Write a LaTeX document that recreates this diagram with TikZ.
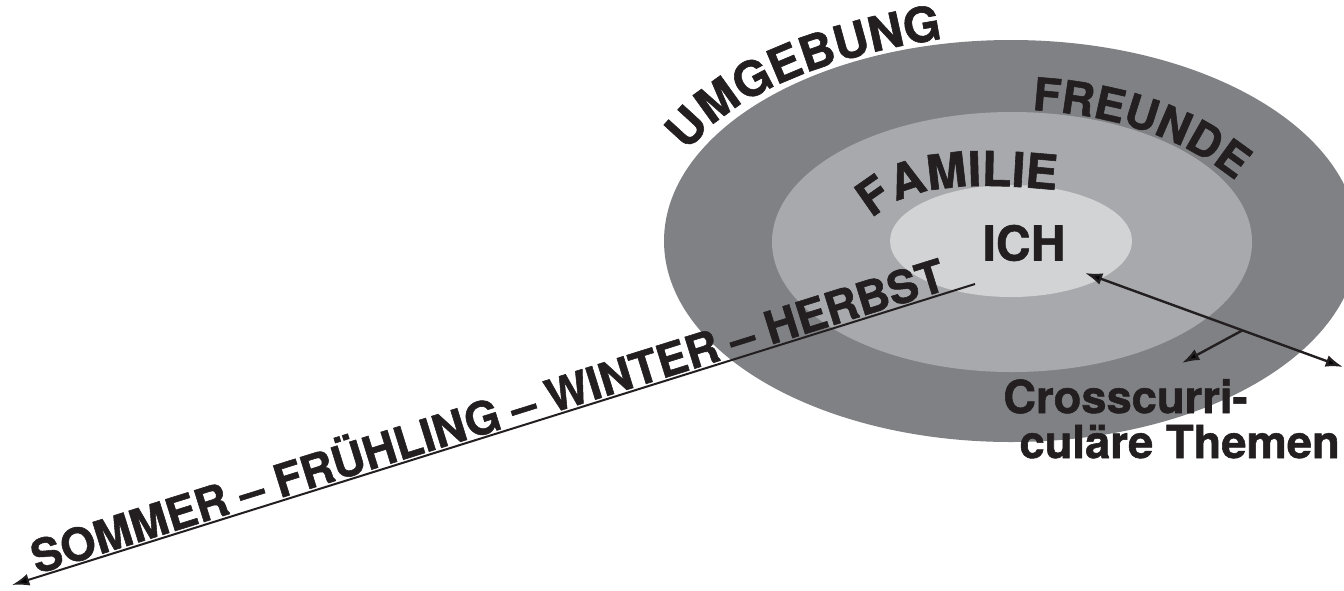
\documentclass[tikz,border=0pt]{standalone}
\usepackage{fontspec}
\setmainfont{TeX Gyre Heros}[BoldFeatures={FakeBold=1.2}]
\usetikzlibrary{arrows.meta,decorations.text}
\definecolor{ringout}{RGB}{128,129,132}
\definecolor{ringmid}{RGB}{167,169,172}
\definecolor{ringin}{RGB}{209,211,212}
\definecolor{ink}{RGB}{35,31,32}
\newcommand{\lbl}[1]{\fontsize{#1}{#1}\selectfont\bfseries}

\begin{document}
\begin{tikzpicture}[x=0.75pt,y=-0.75pt,
    lab/.style={font=\lbl{34},text=ink,inner sep=0pt},
    arr/.style={draw=ink,line width=1.8pt,-{Latex[length=13pt,width=9pt]}},
    ringtext/.style 2 args={decorate,decoration={text along path,text={|\lbl{#1}|#2},text color=ink}}]
    \useasboundingbox (0,0) rectangle (1344,590);
    %the three rings
    \fill[ringout] (1011,241) ellipse [x radius=347,y radius=201];
    \fill[ringmid] (1012,242) ellipse [x radius=240,y radius=130];
    \fill[ringin] (1011,241) ellipse [x radius=121,y radius=56];
    %ring labels
    \node[lab,font=\lbl{36}] (ich) at (1024,243) {ICH};
    \path[ringtext={36}{UMGEBUNG}] (688,152) .. controls (725,98) and (830,50) .. (980,34);
    \path[ringtext={36}{FAMILIE}] (872,219) .. controls (910,182) and (980,180) .. (1090,194);
    \path[ringtext={34}{FREUNDE}] (1032,110) .. controls (1110,115) and (1190,135) .. (1255,198);
    \node[lab,anchor=base west] (cross1) at (1003,413) {Crosscurri-};
    \node[lab,anchor=base east] (cross2) at (1340,458) {culäre Themen};
    %arrow ends
    \coordinate (ichtip) at (1085,273);
    \coordinate (edgetip) at (1343,367);
    \coordinate (themetip) at (1182,363);
    \coordinate (herbst) at (975,284);
    \coordinate (sommer) at (12,585);
    \draw[arr,{Latex[length=13pt,width=9pt]}-{Latex[length=13pt,width=9pt]}] (ichtip) -- coordinate[pos=.61] (fork) (edgetip);
    \draw[arr] (fork) -- (themetip);
    \draw[arr,line width=1.5pt] (herbst) -- (sommer) node[pos=.5,sloped,above=1pt,lab] (seasons) {SOMMER – FRÜHLING – WINTER – HERBST};
\end{tikzpicture}
\end{document}
